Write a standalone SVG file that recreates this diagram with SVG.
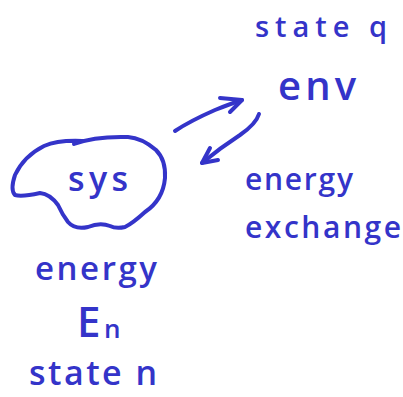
<svg xmlns="http://www.w3.org/2000/svg" width="403" height="397" viewBox="0 0 403 397">
<style>
.ink{fill:none;stroke:#3434c9;stroke-width:4;stroke-linecap:round;stroke-linejoin:round}
text{fill:#3434c9;font-family:"Open Sans","DejaVu Sans",sans-serif;font-weight:600}
</style>
<rect width="403" height="397" fill="#ffffff"/>
<g id="sys">
<path class="ink" d="M74,144 Q 95,136 128,137 Q 142,138 156,150 Q 166,160 165,178 Q 163,200 145,212 Q 133,223 125,227 Q 116,229 110,226 Q 100,222 88,227 Q 75,230 68,222 Q 62,214 58,205 Q 50,194 40,193 Q 22,197 15,195 Q 10,190 15,175 Q 24,156 44,146 Q 58,140 82,141"/>
<text x="98" y="191" font-size="34" text-anchor="middle" textLength="60" lengthAdjust="spacing">sys</text>
</g>
<g id="env">
<text x="317" y="100" font-size="40" text-anchor="middle" textLength="78" lengthAdjust="spacing">env</text>
<text x="321" y="37" font-size="29" text-anchor="middle" textLength="132" lengthAdjust="spacing">state q</text>
</g>
<g id="connectors">
<path class="ink" d="M175,131 Q 190,121 215,110 Q 230,104 242,100"/>
<path class="ink" d="M220,98 L242,100 L230,112"/>
<path class="ink" d="M259,114 Q 256,124 240,135 Q 220,148 202,163"/>
<path class="ink" d="M210,148 L202,163 L218,160"/>
</g>
<g id="exchange-label">
<text x="299" y="190" font-size="30" text-anchor="middle" textLength="108" lengthAdjust="spacing">energy</text>
<text x="323" y="238" font-size="30" text-anchor="middle" textLength="156" lengthAdjust="spacing">exchange</text>
</g>
<g id="sys-label">
<text x="96" y="280" font-size="33" text-anchor="middle" textLength="122" lengthAdjust="spacing">energy</text>
<text x="77" y="337" font-size="42">E</text>
<text x="104" y="338" font-size="26">n</text>
<text x="93" y="385" font-size="34" text-anchor="middle" textLength="128" lengthAdjust="spacing">state n</text>
</g>
</svg>
